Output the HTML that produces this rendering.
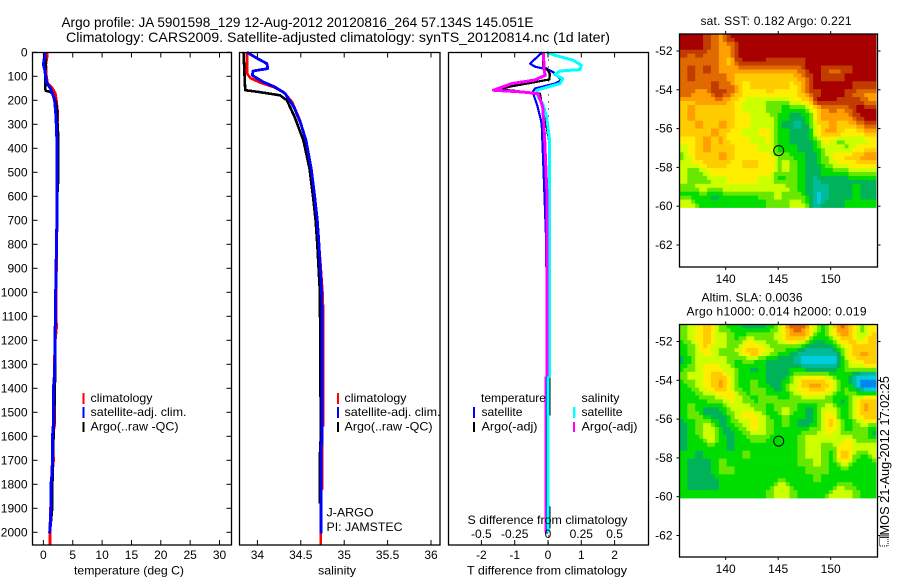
<!DOCTYPE html>
<html lang="en">
<head>
<meta charset="utf-8">
<title>Argo profile 5901598_129</title>
<style>
html,body{margin:0;padding:0;background:#fff;}
svg{display:block;}
text{font-family:"Liberation Sans",sans-serif;font-size:12px;fill:#000;}
.title{font-size:14px;}
.frame{fill:none;stroke:#000;stroke-width:1.3;}
.profile{shape-rendering:crispEdges;}
</style>
</head>
<body>
<svg id="chart" xmlns="http://www.w3.org/2000/svg" width="900" height="580" viewBox="0 0 900 580">
  <rect x="0" y="0" width="900" height="580" fill="#fff"/>
  <text class="title" x="61.5" y="27" textLength="472" lengthAdjust="spacingAndGlyphs">Argo profile: JA 5901598_129 12-Aug-2012 20120816_264 57.134S 145.051E</text>
  <text class="title" x="66" y="42" textLength="544" lengthAdjust="spacingAndGlyphs">Climatology: CARS2009. Satellite-adjusted climatology: synTS_20120814.nc (1d later)</text>

  <g id="panel-temp"></g>
  <g id="panel-sal"></g>
  <g id="panel-diff"></g>
  <g id="map-sst"></g>
  <g id="map-sla"></g>

  <text x="74" y="574.5" textLength="110" lengthAdjust="spacingAndGlyphs">temperature (deg C)</text>
  <text x="318" y="574.5" textLength="38" lengthAdjust="spacingAndGlyphs">salinity</text>
  <text x="467" y="574.5" textLength="160" lengthAdjust="spacingAndGlyphs">T difference from climatology</text>
  <text x="467.5" y="524" textLength="160" lengthAdjust="spacingAndGlyphs">S difference from climatology</text>

  <g>
    <rect x="82.5" y="393" width="2" height="11" fill="#f00"/>
    <text x="90.5" y="402" textLength="62" lengthAdjust="spacingAndGlyphs">climatology</text>
    <rect x="82.5" y="407" width="2" height="11" fill="#00f"/>
    <text x="90.5" y="416" textLength="96" lengthAdjust="spacingAndGlyphs">satellite-adj. clim.</text>
    <rect x="82.5" y="422" width="2" height="10" fill="#000"/>
    <text x="90.5" y="430.5" textLength="88" lengthAdjust="spacingAndGlyphs">Argo(..raw -QC)</text>
  </g>
  <g>
    <rect x="337" y="393" width="2" height="11" fill="#f00"/>
    <text x="344.5" y="402" textLength="62" lengthAdjust="spacingAndGlyphs">climatology</text>
    <rect x="337" y="407" width="2" height="11" fill="#00f"/>
    <text x="344.5" y="416" textLength="96" lengthAdjust="spacingAndGlyphs">satellite-adj. clim.</text>
    <rect x="337" y="422" width="2" height="10" fill="#000"/>
    <text x="344.5" y="430.5" textLength="88" lengthAdjust="spacingAndGlyphs">Argo(..raw -QC)</text>
  </g>
  <g>
    <text x="481" y="402" textLength="65" lengthAdjust="spacingAndGlyphs">temperature</text>
    <text x="581.5" y="402" textLength="38" lengthAdjust="spacingAndGlyphs">salinity</text>
    <rect x="473" y="407" width="2" height="11" fill="#00f"/>
    <text x="481.5" y="416" textLength="41" lengthAdjust="spacingAndGlyphs">satellite</text>
    <rect x="473" y="422" width="2" height="10" fill="#000"/>
    <text x="481.5" y="430.5" textLength="56" lengthAdjust="spacingAndGlyphs">Argo(-adj)</text>
    <rect x="573" y="407" width="2.4" height="11" fill="#0ff"/>
    <text x="581.5" y="416" textLength="41" lengthAdjust="spacingAndGlyphs">satellite</text>
    <rect x="573" y="422" width="2" height="10" fill="#f0f"/>
    <text x="581.5" y="430.5" textLength="56" lengthAdjust="spacingAndGlyphs">Argo(-adj)</text>
  </g>

  <text x="326.5" y="516.5" textLength="47" lengthAdjust="spacingAndGlyphs">J-ARGO</text>
  <text x="326.5" y="531" textLength="76" lengthAdjust="spacingAndGlyphs">PI: JAMSTEC</text>

  <text class="map-title" x="700.5" y="25" textLength="151">sat. SST: 0.182 Argo: 0.221</text>
  <text class="map-title" x="701.5" y="301.5" textLength="101">Altim. SLA: 0.0036</text>
  <text class="map-title" x="686.5" y="315.5" textLength="180">Argo h1000: 0.014 h2000: 0.019</text>

  <rect x="879.5" y="535.5" width="8.5" height="10.5" fill="none" stroke="#000" stroke-width="1" stroke-dasharray="1 1"/>
  <text transform="translate(889,539) rotate(-90)" textLength="163" lengthAdjust="spacingAndGlyphs" style="font-size:13px">IMOS 21-Aug-2012 17:02:25</text>
</svg>

<script>
/* ---------- temperature profile data ---------- */
const tempClimDepth = [0,20,50,100,130,150,170,200,250,300,500,700,1000,1150,1200,1400,1500,1550,1600,1700,1750,1900,2005,2054];
const tempClimVal   = [0.6,0.6,0.4,0.5,0.7,1.5,2.0,2.2,2.4,2.35,2.35,2.3,2.15,2.2,2.0,1.8,1.9,1.9,1.55,1.7,1.5,1.25,1.1,1.1];
const tempSatDepth  = [0,50,70,100,130,150,175,200,250,300,400,600,700,1000,1350,1400,1550,1600,1750,1800,1950,2004];
const tempSatVal    = [0.3,0,0.2,0.4,0.6,1.2,1.6,1.9,2.1,2.2,2.35,2.35,2.3,2.1,1.9,1.7,1.7,1.55,1.5,1.3,1.25,1.05];
const tempArgoDepth = [0,50,100,150,160,165,175,200,230,300,360,520,600,1000,1350,1500,1700,1850,1900,2000];
const tempArgoVal   = [0.3,0.4,0.3,0.3,0.4,1.2,1.6,2.0,2.3,2.4,2.55,2.55,2.35,2.1,2.0,1.85,1.6,1.5,1.5,1.1];
const tempTicks = [0,5,10,15,20,25,30];
const depthTicks = [0,100,200,300,400,500,600,700,800,900,1000,1100,1200,1300,1400,1500,1600,1700,1800,1900,2000];

/* ---------- salinity profile data ---------- */
const salClimDepth = [0,88,108,126,144,165,207,283,367,484,600,700,800,900,1000,1100,1554,1555,1820,1821,2004,2054];
const salClimVal   = [33.88,33.88,33.92,34.03,34.18,34.3,34.4,34.49,34.56,34.62,34.66,34.69,34.71,34.73,34.75,34.76,34.76,34.745,34.745,34.73,34.73,34.73];
const salSatDepth  = [0,26,47,68,78,96,124,144,172,228,297,367,484,600,700,800,900,1000,1100,1630,1631,2004];
const salSatVal    = [33.88,34.0,34.11,34.12,33.95,33.94,34.07,34.2,34.32,34.42,34.5,34.56,34.62,34.66,34.69,34.71,34.725,34.74,34.745,34.745,34.733,34.733];
const salArgoDepth = [0,158,165,179,200,270,367,484,600,700,800,1000,1600,1680,1880];
const salArgoVal   = [33.84,33.86,34.01,34.26,34.34,34.43,34.53,34.6,34.64,34.67,34.69,34.72,34.73,34.72,34.72];
const salTicks = [34,34.5,35,35.5,36];
const salTickLabels = ['34','34.5','35','35.5','36'];

/* ---------- difference profile data ---------- */
const diffTSatDepth  = [0,47,60,72,82,116,130,151,165,186,228,297,436,575,800,2004];
const diffTSatVal    = [-0.17,-0.54,-0.39,0,0.15,0.41,0.21,-0.39,-0.46,-0.41,-0.31,-0.19,-0.15,-0.11,-0.05,-0.03];
const diffTArgoDepth = [0,60,68,90,113,124,144,155,165,172,214,270,367,527,540,1300,1320,1510,1515,1890,1895,1985];
const diffTArgoVal   = [-0.14,-0.14,-0.04,0.06,0.04,-0.39,-1.19,-1.39,-0.69,-0.24,-0.19,-0.09,0.03,0.06,0.0,0.0,0.04,0.04,-0.03,-0.03,0.04,0.04];
const diffSSatDepth  = [0,12,33,54,72,78,92,110,130,158,186,214,270,367,700,1350,1355,2000];
const diffSSatVal    = [-0.01,0.05,0.19,0.25,0.24,0.09,0.05,0.11,0.09,-0.085,-0.075,-0.04,-0.01,0.012,0.012,0.012,0.0,0.0];
const diffSArgoDepth = [0,80,96,116,130,158,165,172,228,311,367,575,1350];
const diffSArgoVal   = [-0.035,-0.028,-0.02,-0.1,-0.27,-0.41,-0.2,-0.075,-0.04,-0.03,-0.025,-0.009,-0.009];
const diffSArgoDeepDepth = [1350,2000];
const diffSArgoDeepVal   = [-0.02,-0.02];
const diffTTicks = [-2,-1,0,1,2];
const diffSTicks = [-0.5,-0.25,0,0.25,0.5];

/* ---------- map data (colour level per grid cell, north to south, west to east) ---------- */
const sstGrid = [
[13,13,13,12,11,10,13,13,13,13,13,13,13,13,13,13,13,13,13,13,13,13,13,13,13],
[13,13,13,12,11,10,10,13,13,13,13,13,13,13,13,13,13,13,13,13,13,13,13,13,13],
[12,11,12,11,11,10,10,13,13,13,13,13,13,13,13,13,13,13,13,13,13,13,13,13,13],
[11,11,11,11,11,10,9,12,13,13,13,12,12,12,12,12,13,13,13,13,13,13,13,13,13],
[11,12,11,12,11,10,10,10,10,10,10,10,10,10,10,11,13,13,12,11,11,12,13,13,13],
[11,12,11,11,11,11,10,9,9,9,9,9,9,9,9,10,12,13,12,12,12,13,13,13,13],
[11,11,11,11,12,11,11,9,8,9,9,9,9,9,8,9,12,13,13,13,13,13,12,12,12],
[11,11,10,10,12,12,11,9,8,8,8,9,8,8,8,9,11,12,13,13,13,12,11,10,10],
[9,9,10,10,10,10,9,8,7,7,7,6,6,6,8,8,9,13,13,13,12,12,12,11,10],
[9,10,9,9,9,9,9,8,7,7,7,6,6,5,5,5,7,9,10,11,10,11,13,13,13],
[9,10,9,9,9,9,9,8,8,7,7,7,5,5,4,4,5,9,10,10,10,10,12,13,13],
[9,9,10,9,9,10,9,8,8,7,7,7,5,4,3,3,5,8,9,10,9,9,10,11,12],
[9,9,9,9,10,9,8,8,7,7,8,8,5,5,4,4,4,8,10,10,9,8,8,9,9],
[8,8,9,10,9,10,8,8,8,7,7,8,5,5,4,4,4,6,8,7,6,7,7,7,8],
[7,8,9,10,9,9,9,8,8,8,7,7,5,5,5,4,4,5,7,7,7,6,8,8,8],
[6,8,9,9,9,10,9,8,8,8,8,8,6,6,5,5,4,4,6,8,8,9,9,10,10],
[7,7,8,9,9,9,8,8,9,9,8,8,6,7,6,5,4,4,6,7,8,8,8,9,8],
[7,6,6,7,8,8,8,8,8,8,8,8,6,7,6,5,4,4,5,5,5,6,7,7,7],
[7,6,6,6,7,7,8,8,8,8,7,7,5,5,6,5,4,3,4,4,4,4,4,4,4],
[6,6,7,7,7,7,7,7,7,7,7,7,7,7,6,5,4,3,3,4,4,4,5,4,4],
[5,5,5,5,4,5,5,5,5,5,6,6,7,6,6,6,4,2,3,4,4,4,5,4,4],
[7,7,5,5,5,5,5,5,5,5,5,6,6,6,7,7,5,2,4,4,4,5,5,5,5]
];
const slaGrid = [
[6,7,8,9,7,6,5,5,4,4,4,5,6,9,11,11,9,6,5,8,11,10,7,6,8],
[6,7,8,10,7,7,6,5,6,6,6,6,7,9,10,10,8,5,5,7,9,10,7,7,9],
[5,6,8,9,7,7,6,6,8,8,7,6,6,7,7,6,4,4,4,5,7,8,9,8,9],
[5,6,7,8,7,6,6,7,9,10,8,7,6,5,4,3,3,3,3,3,5,8,9,10,9],
[4,5,7,7,7,7,6,5,6,6,5,4,4,4,3,2,2,2,1,1,4,7,8,9,9],
[5,6,7,8,8,7,7,5,5,4,5,4,4,4,5,4,3,3,3,3,5,6,7,7,7],
[6,7,7,8,9,9,7,5,5,5,5,4,4,4,6,7,7,7,7,6,5,5,3,2,2],
[5,6,7,8,9,10,8,5,5,6,5,4,4,5,7,9,10,10,9,8,5,5,2,0,0],
[5,5,6,7,8,9,8,6,5,6,6,5,4,5,7,8,8,9,8,7,5,6,5,3,3],
[5,5,5,6,6,7,8,7,6,5,6,6,6,5,6,6,6,6,6,5,4,5,8,9,9],
[5,6,5,4,4,5,7,7,7,6,6,5,6,7,6,5,4,5,7,7,5,5,8,10,9],
[5,6,6,4,4,4,6,7,8,8,7,5,5,7,5,5,4,5,8,8,5,5,8,9,9],
[4,5,6,7,5,4,5,6,7,8,7,6,5,6,5,4,4,5,8,9,6,5,6,7,7],
[4,5,6,7,7,4,4,5,6,8,7,6,5,5,5,5,6,6,8,8,6,5,6,6,4],
[4,5,5,7,7,5,4,5,5,6,6,5,5,5,5,6,7,7,7,7,7,8,6,6,5],
[4,5,5,5,5,5,4,5,5,5,5,5,5,5,5,6,7,7,6,6,8,8,7,7,7],
[5,5,4,5,5,5,5,5,6,5,5,5,5,5,5,6,7,7,6,5,9,9,6,5,7],
[5,4,4,4,5,6,5,5,5,5,5,5,5,5,5,6,6,7,6,5,7,7,5,5,5],
[5,4,4,4,5,6,6,5,5,5,5,5,5,5,5,5,6,6,6,5,5,5,5,5,5],
[5,4,4,4,4,5,5,5,5,5,5,5,5,5,5,5,5,6,5,5,5,5,5,5,5],
[5,4,4,4,4,5,5,5,5,5,5,5,7,7,5,5,5,5,5,5,7,6,5,5,5],
[5,5,5,5,5,5,5,5,5,5,5,6,7,7,6,5,5,5,5,7,7,7,6,5,5]
];
const lonTicks = [140,145,150];
const latTicks = [-52,-54,-56,-58,-60,-62];
const floatLon = [145.051];
const floatLat = [-57.134];
const mapPalette = ['#0038e0','#0088ee','#00ccdd','#00bb99','#00b35a','#00dd00','#66e800','#ccff00','#ffee00','#ffcc00','#ffa000','#e06a00','#c23c00','#a80000'];

/* ---------- axis functions ---------- */
const SVG_NS = 'http://www.w3.org/2000/svg';
const yDepth = d => 52.3 + 0.24 * d;
const xTemp = t => 43.4 + 5.87 * t;
const xSal = s => 257.4 + 86.8 * (s - 34);
const xDiffT = t => 548 + 33.3 * t;
const xDiffS = s => 548 + 133.2 * s;
const xLon = lon => 725.7 + 10.5 * (lon - 140);
const latAxis = top => lat => top + 17 + 19.4 * (-52 - lat);

function svgEl(parent, tag, attrs) {
  const el = document.createElementNS(SVG_NS, tag);
  for (const k in attrs) el.setAttribute(k, attrs[k]);
  parent.appendChild(el);
  return el;
}
function pathOf(depths, vals, xf) {
  return depths.map((d, i) => (i ? 'L' : 'M') + xf(vals[i]).toFixed(1) + ' ' + yDepth(Math.min(d, 2054)).toFixed(1)).join('');
}
function drawLine(parent, depths, vals, xf, color, width) {
  const el = svgEl(parent, 'path', {d: pathOf(depths, vals, xf), fill: 'none', stroke: color, 'stroke-width': width, 'stroke-linejoin': 'round', class: 'profile'});
  return el;
}
function drawFrame(parent, x0, x1, y0, y1) {
  const el = svgEl(parent, 'rect', {x: x0, y: y0, width: x1 - x0, height: y1 - y0, class: 'frame'});
  
  
}
function tick(parent, x1, y1, x2, y2) {
  const el = svgEl(parent, 'line', {x1: x1, y1: y1, x2: x2, y2: y2, stroke: '#000', 'stroke-width': 1});
  
  
}
function label(parent, x, y, str, anchor) {
  const el = svgEl(parent, 'text', {x: x, y: y, 'text-anchor': anchor});
  el.textContent = str;
  
  
}

/* ---------- temperature panel ---------- */
const pTemp = document.getElementById('panel-temp');
const tempRed = drawLine(pTemp, tempClimDepth, tempClimVal, xTemp, '#f00', 3);


const tempBlack = drawLine(pTemp, tempArgoDepth, tempArgoVal, xTemp, '#000', 2.6);


const tempBlue = drawLine(pTemp, tempSatDepth, tempSatVal, xTemp, '#00f', 3);


drawFrame(pTemp, 32.5, 231.5, 52.5, 545);
tempTicks.forEach(t => {
  tick(pTemp, xTemp(t), 52.5, xTemp(t), 57.5);
  tick(pTemp, xTemp(t), 540, xTemp(t), 545);
  label(pTemp, xTemp(t), 559, String(t), 'middle');
});
depthTicks.forEach(d => {
  tick(pTemp, 32.5, yDepth(d), 37.5, yDepth(d));
  tick(pTemp, 226.5, yDepth(d), 231.5, yDepth(d));
  label(pTemp, 27.5, yDepth(d) + 4, String(d), 'end');
});

/* ---------- salinity panel ---------- */
const pSal = document.getElementById('panel-sal');
const salRed = drawLine(pSal, salClimDepth, salClimVal, xSal, '#f00', 2.6);


const salBlack = drawLine(pSal, salArgoDepth, salArgoVal, xSal, '#000', 2.6);


const salBlue = drawLine(pSal, salSatDepth, salSatVal, xSal, '#00f', 2.8);


drawFrame(pSal, 239.5, 440, 52.5, 545);
salTicks.forEach((s, i) => {
  tick(pSal, xSal(s), 52.5, xSal(s), 57.5);
  tick(pSal, xSal(s), 540, xSal(s), 545);
  label(pSal, xSal(s), 559, salTickLabels[i], 'middle');
});

/* ---------- difference panel ---------- */
const pDiff = document.getElementById('panel-diff');
const zeroLine = svgEl(pDiff, 'line', {x1: Math.round(xDiffT(0)) + 0.5, y1: 52.5, x2: Math.round(xDiffT(0)) + 0.5, y2: 545, stroke: '#000', 'stroke-width': 1, 'stroke-dasharray': '1 6', class: 'profile'});


const diffBlue = drawLine(pDiff, diffTSatDepth, diffTSatVal, xDiffT, '#00f', 2.2);


const diffBlack = drawLine(pDiff, diffTArgoDepth, diffTArgoVal, xDiffT, '#000', 2.2);


const diffCyan = drawLine(pDiff, diffSSatDepth, diffSSatVal, xDiffS, '#0ff', 3);


const diffMagenta = drawLine(pDiff, diffSArgoDepth, diffSArgoVal, xDiffS, '#f0f', 3);


const diffMagentaDeep = drawLine(pDiff, diffSArgoDeepDepth, diffSArgoDeepVal, xDiffS, '#f0f', 1.2);


drawFrame(pDiff, 448.5, 648.5, 52.5, 545);
diffTTicks.forEach(t => {
  tick(pDiff, xDiffT(t), 52.5, xDiffT(t), 57.5);
  tick(pDiff, xDiffT(t), 540, xDiffT(t), 545);
  label(pDiff, xDiffT(t), 559, String(t), 'middle');
});
diffSTicks.forEach(s => {
  label(pDiff, xDiffS(s), 538, String(s), 'middle');
});

/* ---------- maps ---------- */
function sampleGrid(grid, r, c) {
  const rows = grid.length, cols = grid[0].length;
  const rr = Math.max(0, Math.min(rows - 1, r));
  const cc = Math.max(0, Math.min(cols - 1, c));
  const r0 = Math.floor(rr), c0 = Math.floor(cc);
  const r1 = Math.min(rows - 1, r0 + 1), c1 = Math.min(cols - 1, c0 + 1);
  const fr = rr - r0, fc = cc - c0;
  return (grid[r0][c0] * (1 - fc) + grid[r0][c1] * fc) * (1 - fr) + (grid[r1][c0] * (1 - fc) + grid[r1][c1] * fc) * fr;
}
function drawMap(parent, grid, top, bottom) {
  const yLat = latAxis(top);
  const lonStart = 135.6, lonStep = 0.7486 / 2;
  const latStart = -52 + 17 / 19.4, latStep = 0.4065 / 2;
  const nRows = grid.length * 2, nCols = grid[0].length * 2;
  for (let r = 0; r < nRows; r++) {
    for (let c = 0; c < nCols; c++) {
      const level = Math.round(sampleGrid(grid, (r - 0.5) / 2, (c - 0.5) / 2));
      const x0 = xLon(lonStart + c * lonStep), x1 = xLon(lonStart + (c + 1) * lonStep);
      const y0 = yLat(latStart - r * latStep), y1 = yLat(latStart - (r + 1) * latStep);
      const cell = svgEl(parent, 'rect', {x: x0.toFixed(2), y: y0.toFixed(2), width: (x1 - x0 + 0.4).toFixed(2), height: (y1 - y0 + 0.4).toFixed(2), fill: mapPalette[level]});
      
      
    }
  }
  drawFrame(parent, 679.5, 877.5, top, bottom);
  lonTicks.forEach(lon => {
    tick(parent, xLon(lon), top - 3, xLon(lon), top);
    tick(parent, xLon(lon), bottom, xLon(lon), bottom + 3);
    label(parent, xLon(lon), bottom + 16, String(lon), 'middle');
  });
  latTicks.forEach(lat => {
    tick(parent, 676.5, yLat(lat), 679.5, yLat(lat));
    tick(parent, 877.5, yLat(lat), 880.5, yLat(lat));
    label(parent, 672.5, yLat(lat) + 4, String(lat), 'end');
  });
  floatLon.forEach((lon, i) => {
    const marker = svgEl(parent, 'circle', {cx: xLon(lon).toFixed(1), cy: yLat(floatLat[i]).toFixed(1), r: 5, fill: 'none', stroke: '#000', 'stroke-width': 1});
    
    
  });
}
drawMap(document.getElementById('map-sst'), sstGrid, 34, 267);
drawMap(document.getElementById('map-sla'), slaGrid, 324.5, 557);
</script>
</body>
</html>
